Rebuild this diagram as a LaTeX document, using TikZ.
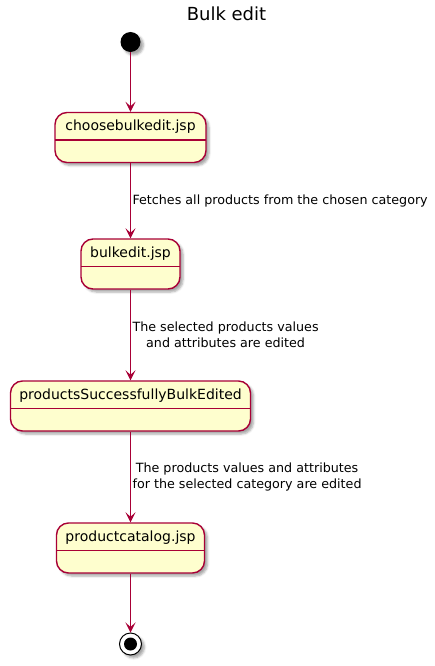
\documentclass[tikz,border=0pt]{standalone}
\usepackage{fontspec}
\setmainfont{DejaVu Sans}
\usetikzlibrary{arrows.meta,shadows.blur}
\definecolor{umlred}{HTML}{A80036}
\definecolor{umlfill}{HTML}{FEFECE}

\begin{document}
\begin{tikzpicture}[x=1pt,y=-1pt,
flow/.style={draw=umlred, line width=1.1pt, -{Stealth[length=10pt,width=10pt,inset=4.5pt]}},
shade/.style={blur shadow={shadow xshift=3pt,shadow yshift=-3pt,shadow blur steps=4,shadow opacity=35}},
statebox/.style={rectangle, draw=umlred, line width=1.4pt, fill=umlfill, rounded corners=12pt, minimum height=50pt, inner sep=0pt, text height=11pt, text depth=24pt, font=\fontsize{14}{16}\selectfont, shade,
  path picture={\draw[umlred, line width=1.4pt] ([yshift=-2.5pt]path picture bounding box.west) -- ([yshift=-2.5pt]path picture bounding box.east);}},
startdot/.style={circle, fill=black, minimum size=20pt, inner sep=0pt, shade},
enddot/.style={circle, draw=black, line width=1pt, fill=white, minimum size=22pt, inner sep=0pt, shade,
  path picture={\fill[black] (path picture bounding box.center) circle (6.5pt);}},
lbl/.style={right, inner sep=1.5pt, align=center, font=\fontsize{12.7}{16}\selectfont}]

\useasboundingbox (0,0) rectangle (435,666);

\draw (226.5,14) node[font=\fontsize{18}{20}\selectfont] (Title) {Bulk edit};
\draw (130.5,42) node[startdot] (Start) {};
\draw (130.5,137.5) node[statebox, minimum width=151pt] (Choose) {choosebulkedit.jsp};
\draw (130.5,264) node[statebox, minimum width=99pt] (Bulk) {bulkedit.jsp};
\draw (130.5,406) node[statebox, minimum width=240pt] (Done) {productsSuccessfullyBulkEdited};
\draw (130.5,548) node[statebox, minimum width=148pt] (Catalog) {productcatalog.jsp};
\draw (130.5,644) node[enddot] (End) {};

\draw[flow] (Start)--(Choose);
\draw[flow] (Choose)-- node[lbl] {Fetches all products from the chosen category} (Bulk);
\draw[flow] (Bulk)-- node[lbl] {The selected products values\\and attributes are edited} (Done);
\draw[flow] (Done)-- node[lbl] {The products values and attributes\\for the selected category are edited} (Catalog);
\draw[flow] (Catalog)--(End);

\end{tikzpicture}
\end{document}
